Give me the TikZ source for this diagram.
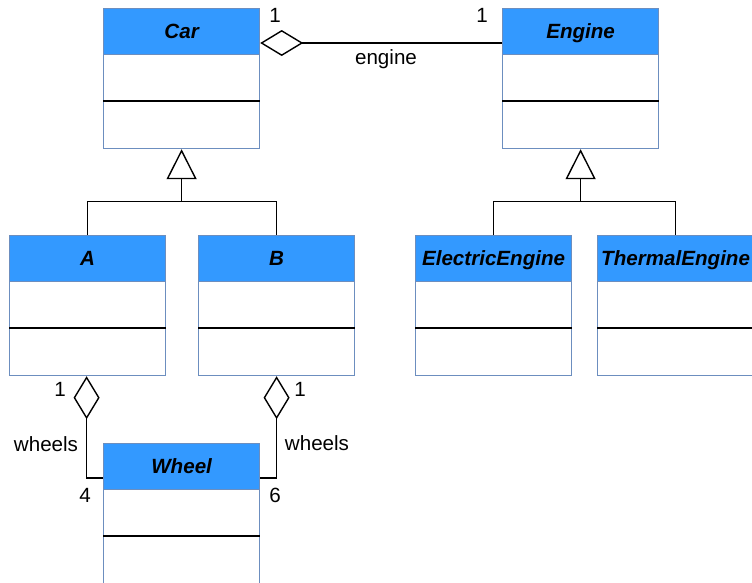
\documentclass[tikz,border=0pt]{standalone}
\usepackage{fontspec}
\setmainfont{Liberation Sans}
\usetikzlibrary{arrows.meta,calc}
\definecolor{headblue}{RGB}{51,153,255}
\definecolor{boxborder}{RGB}{108,142,191}
\tikzset{
  classbox/.style={draw=boxborder, fill=white, line width=1.2pt, minimum width=156pt, minimum height=140pt, inner sep=0pt, anchor=north west},
  headbox/.style={draw=boxborder, fill=headblue, line width=1.2pt, minimum width=156pt, minimum height=46pt, inner sep=0pt, anchor=north west, text height=14.7pt, text depth=0pt, font=\fontsize{20.6}{23}\selectfont\bfseries\itshape},
  divider/.style={draw=black, line width=1.3pt},
  conn/.style={draw=black, line width=1.4pt},
  gen/.style={conn, -{Triangle[open, length=30pt, width=30pt]}},
  agg/.style={conn, {Diamond[open, length=43pt, width=26pt]}-},
  lbl/.style={font=\fontsize{20.6}{23}\selectfont, inner sep=0pt}
}
\newcommand\umlclass[4]{%
  \node[classbox] (#1) at (#2,#3) {};
  \node[headbox] (#1h) at (#2,#3) {#4};
  \draw[divider] ([yshift=-93pt]#1.north west) -- ([yshift=-93pt]#1.north east);
}
\begin{document}
\begin{tikzpicture}[x=1pt, y=-1pt]
\useasboundingbox (0,0) rectangle (752,582);
\clip (0,0) rectangle (752,582);
\umlclass{car}{103}{8}{Car}
\umlclass{engine}{502}{8}{Engine}
\umlclass{a}{9}{235}{A}
\umlclass{b}{198}{235}{B}
\umlclass{elec}{415}{235}{ElectricEngine}
\umlclass{therm}{597}{235}{ThermalEngine}
\umlclass{wheel}{103}{443}{Wheel}
% generalisation
\coordinate (carj) at ($(car.south)+(0,-52pt)$);
\draw[conn] (a.north) |- (carj) -| (b.north);
\draw[gen] (carj) -- (car.south);
\coordinate (engj) at ($(engine.south)+(0,-52pt)$);
\draw[conn] (elec.north) |- (engj) -| (therm.north);
\draw[gen] (engj) -- (engine.south);
% aggregations
\coordinate (carc) at ($(car.north east)+(0,-35pt)$);
\coordinate (engc) at ($(engine.north west)+(0,-35pt)$);
\draw[agg] (carc) -- (engc);
\coordinate (wl) at ($(wheel.north west)+(0,-35pt)$);
\coordinate (wr) at ($(wheel.north east)+(0,-35pt)$);
\coordinate (as) at ($(a.south)+(-1pt,0)$);
\draw[agg] (as) |- (wl);
\draw[agg] (b.south) |- (wr);
% labels
\node[lbl] (l1) at (275,15) {1};
\node[lbl] (l2) at (482,15) {1};
\node[lbl] (l3) at (386,59) {engine};
\node[lbl] (l4) at (60,389) {1};
\node[lbl] (l5) at (46,444) {wheels};
\node[lbl] (l6) at (85,495) {4};
\node[lbl] (l7) at (300,389) {1};
\node[lbl] (l8) at (317,443) {wheels};
\node[lbl] (l9) at (275,495) {6};
\end{tikzpicture}
\end{document}
